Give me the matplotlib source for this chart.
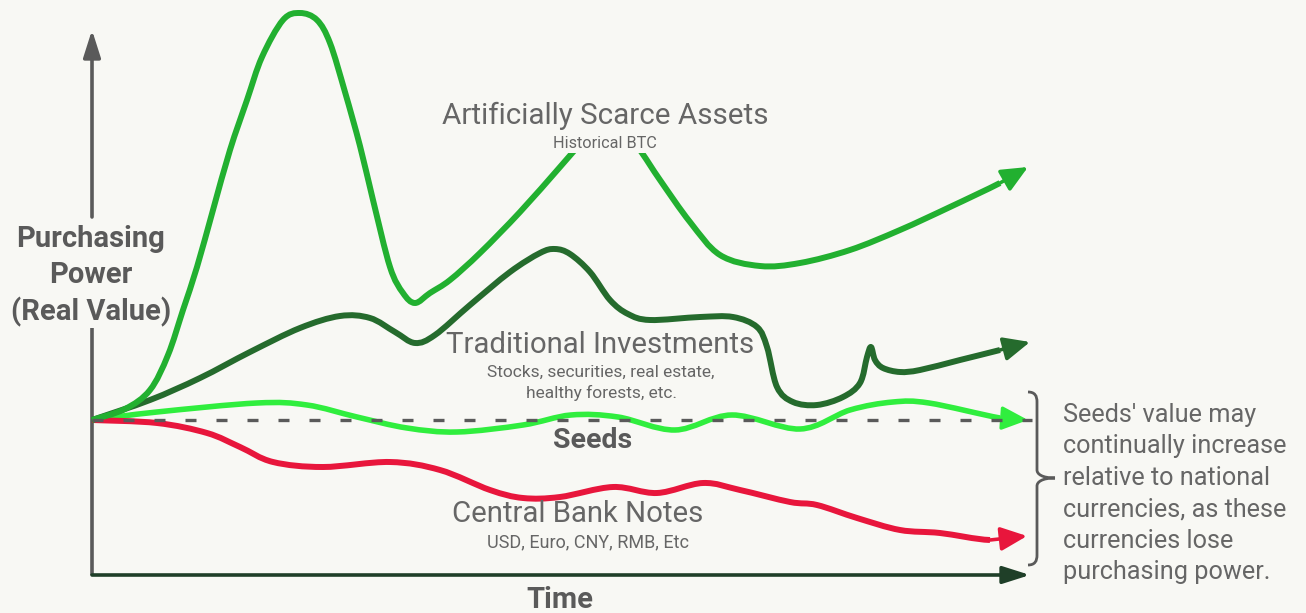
import numpy as np
import matplotlib
matplotlib.use('Agg')
import matplotlib.pyplot as plt
from matplotlib.path import Path
from matplotlib.patches import PathPatch, Rectangle

# time runs left to right, value is real purchasing power (0 = start level)
scarce_t = [0, 33, 58, 76, 91, 105, 121, 138, 155, 170, 191, 208, 225, 238, 253, 268, 281, 298, 311, 323, 338, 358,
            388, 428, 468, 498, 515, 533, 550, 568, 598, 628, 668, 708, 758, 808, 858, 908, 936]
scarce_v = [0, 11, 30, 65, 110, 153, 210, 270, 320, 363, 400, 407, 400, 377, 328, 274, 220, 153, 127, 117, 127, 140,
            167, 208, 253, 287, 303, 290, 267, 240, 198, 165, 154, 157, 170, 190, 213, 237, 253]

trad_t = [0, 58, 108, 158, 208, 248, 278, 303, 323, 343, 378, 418, 448, 463, 478, 498, 518, 536, 558, 608,
          641, 665, 675, 685, 701, 725, 751, 768, 775, 779, 783, 791, 808, 828, 868, 908, 938]
trad_v = [0, 20, 42, 68, 92, 104, 102, 88, 77, 85, 115, 148, 167, 171, 166, 148, 120, 106, 100, 103,
          103, 93, 73, 33, 18, 15, 23, 37, 63, 73, 60, 52, 48, 50, 60, 70, 78]

seeds_t = [0, 65, 165, 215, 265, 315, 365, 431, 479, 526, 583, 640, 708, 758, 801, 837, 908, 936]
seeds_v = [0, 8, 17, 15, 3, -8, -12, -5, 5, 3, -10, 5, -9, 10, 18, 17, 2, 0]

notes_t = [0, 65, 115, 148, 181, 231, 298, 348, 398, 431, 468, 521, 565, 611, 648, 698, 725, 765, 808, 848, 898, 935]
notes_v = [0, -3, -13, -27, -42, -47, -42, -50, -70, -78, -77, -67, -73, -63, -70, -82, -85, -98, -110, -113, -120, -116]

note_lines = ["Seeds' value may", "continually increase", "relative to national",
              "currencies, as these", "currencies lose", "purchasing power."]

BG = '#f8f8f4'
GRAY = '#666666'
DARK = '#5a5a5a'


def spline_path(xs, ys, n_seg):
    # catmull-rom through the read points, handed to matplotlib as bezier curves
    p = np.column_stack([xs, ys]).astype(float)
    pad = np.vstack([p[0], p, p[-1]])
    verts = [p[0]]
    codes = [Path.MOVETO]
    for i in range(n_seg):
        p0, p1, p2, p3 = pad[i], pad[i + 1], pad[i + 2], pad[i + 3]
        verts += [p1 + (p2 - p0) / 6, p2 - (p3 - p1) / 6, p2]
        codes += [Path.CURVE4] * 3
    return Path(verts, codes)


def draw_curve(ax, xs, ys, color, lw=4.3, z=3):
    path = spline_path(xs, ys, len(xs) - 2)
    ax.add_patch(PathPatch(path, fill=False, edgecolor=color, lw=lw, capstyle='butt',
                           joinstyle='round', zorder=z))
    ax.annotate('', xy=(xs[-1], ys[-1]), xytext=(xs[-2], ys[-2]), zorder=z,
                arrowprops=dict(arrowstyle='-|>,head_length=0.8,head_width=0.36', mutation_scale=20,
                                color=color, lw=lw * 0.6, shrinkA=0, shrinkB=0))


plt.rcParams['font.family'] = ['Roboto', 'DejaVu Sans']

fig = plt.figure(figsize=(13.06, 6.13), dpi=100, facecolor=BG)
ax = fig.add_axes([0, 0, 1, 1])
ax.set_xlim(-92, 1214)
ax.set_ylim(-193, 420)
ax.set_facecolor(BG)
ax.axis('off')

# axes arrows
ax.plot([0, 0], [-155, 92], color=DARK, lw=2.6, solid_capstyle='butt', zorder=2)
ax.annotate('', xy=(0, 390), xytext=(0, 203),
            arrowprops=dict(arrowstyle='-|>,head_length=1.1,head_width=0.35', mutation_scale=15,
                            color=DARK, lw=2.6, shrinkA=0, shrinkB=0))
ax.annotate('', xy=(938, -155), xytext=(0, -155),
            arrowprops=dict(arrowstyle='-|>,head_length=1.1,head_width=0.35', mutation_scale=15,
                            color='#1f3f28', lw=2.6, shrinkA=0, shrinkB=0))

draw_curve(ax, seeds_t, seeds_v, '#30ee3e', lw=4.0, z=3)
draw_curve(ax, notes_t, notes_v, '#e8163c', z=4)
draw_curve(ax, trad_t, trad_v, '#256b2d', z=5)
draw_curve(ax, scarce_t, scarce_v, '#22b030', z=6)

# baseline
ax.plot([0, 940], [0, 0], color=DARK, lw=2.4, dashes=(3.3, 6.0), zorder=7)

# label backing over the scarce asset peak
ax.add_patch(Rectangle((456, 267), 142, 58, facecolor=BG, edgecolor='none', zorder=8))

# brace
bx, top, bot, mid = 945, 28, -145, -58
brace = Path([(936, top), (943, top), (bx, top - 4), (bx, top - 10),
              (bx, mid + 8), (bx, mid + 4), (950, mid), (963, mid),
              (950, mid), (bx, mid - 4), (bx, mid - 8),
              (bx, bot + 10), (bx, bot + 4), (943, bot), (936, bot)],
             [Path.MOVETO, Path.CURVE4, Path.CURVE4, Path.CURVE4,
              Path.LINETO, Path.CURVE4, Path.CURVE4, Path.CURVE4,
              Path.CURVE4, Path.CURVE4, Path.CURVE4,
              Path.LINETO, Path.CURVE4, Path.CURVE4, Path.CURVE4])
ax.add_patch(PathPatch(brace, fill=False, edgecolor=DARK, lw=2.0, zorder=2))

# labels
ax.text(513, 304, 'Artificially Scarce Assets', ha='center', va='center', fontsize=21.3, color=GRAY, zorder=9)
ax.text(513, 276, 'Historical BTC', ha='center', va='center', fontsize=11.7, color=GRAY, zorder=9)
ax.text(508, 75, 'Traditional Investments', ha='center', va='center', fontsize=21.2, color=GRAY, zorder=9)
ax.text(509, 37, 'Stocks, securities, real estate,\nhealthy forests, etc.', ha='center', va='center',
        fontsize=12.5, color=GRAY, linespacing=1.35, zorder=9)
ax.text(501, -20, 'Seeds', ha='center', va='center', fontsize=20.5, fontweight='bold', color=DARK, zorder=9)
ax.text(486, -94, 'Central Bank Notes', ha='center', va='center', fontsize=21.2, color=GRAY, zorder=9)
ax.text(496, -122, 'USD, Euro, CNY, RMB, Etc', ha='center', va='center', fontsize=13, color=GRAY, zorder=9)
ax.text(468, -180, 'Time', ha='center', va='center', fontsize=21, fontweight='bold', color=DARK, zorder=9)
ax.text(-1, 144, 'Purchasing\nPower\n(Real Value)', ha='center', va='center', fontsize=21,
        fontweight='bold', color=DARK, linespacing=1.36, zorder=9)

for i, line in enumerate(note_lines):
    ax.text(971, 5 - 31.4 * i, line, ha='left', va='center', fontsize=18.2, color=GRAY, zorder=9)

plt.savefig('out.png', dpi=100, facecolor=BG)
